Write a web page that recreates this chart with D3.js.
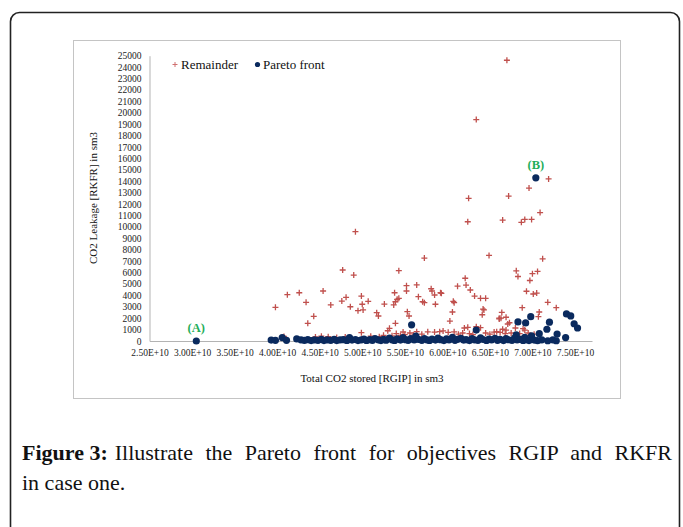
<!DOCTYPE html>
<html><head><meta charset="utf-8">
<script src="https://cdn.jsdelivr.net/npm/d3@7"></script>
<style>
html,body{margin:0;padding:0;background:#fff;}
</style></head>
<body><svg id="svg" width="683" height="527"></svg>
<script>
// ---- data (x in units of 1E+10 sm3, y in sm3) ----
const xTicks = [2.5, 3.0, 3.5, 4.0, 4.5, 5.0, 5.5, 6.0, 6.5, 7.0, 7.5];
const xTickLabels = ["2.50E+10","3.00E+10","3.50E+10","4.00E+10","4.50E+10","5.00E+10","5.50E+10","6.00E+10","6.50E+10","7.00E+10","7.50E+10"];
const yTicks = [0,1000,2000,3000,4000,5000,6000,7000,8000,9000,10000,11000,12000,13000,14000,15000,16000,17000,18000,19000,20000,21000,22000,23000,24000,25000];
const seriesNames = ["Remainder","Pareto front"];
const remainderX = [6.70,6.34,7.19,6.96,6.72,6.25,7.09,6.24,6.65,6.87,6.91,6.99,
 6.49,7.12,6.81,6.83,7.00,7.06,6.97,6.21,6.12,6.22,
 4.92,5.73,4.77,4.90,5.43,5.52,5.64,5.81,
 3.98,4.12,4.26,4.34,4.43,4.36,4.54,4.63,4.76,4.81,4.86,4.95,4.99,5.00,5.01,5.07,5.17,5.19,5.26,5.37,5.38,5.39,5.41,5.43,5.52,5.66,5.71,5.73,5.53,5.55,5.39,5.32,5.30,4.99,5.48,5.56,5.64,
 5.82,5.85,5.92,6.27,5.86,6.32,6.39,6.45,6.07,6.93,7.01,7.05,6.43,6.41,6.06,6.88,7.18,7.28,7.08,6.64,6.69,6.61,6.03,6.71,6.65,6.20,6.24,6.39,6.89,6.91,6.80,
 5.93,6.08,6.73,6.69,7.07,6.34,6.42,6.61,6.63,
 4.08,4.45,4.52,4.60,4.70,4.80,5.10,5.20,5.25,5.35,5.40,5.45,5.50,5.60,5.70,5.77,5.85,5.91,5.95,6.01,6.08,6.13,6.18,6.26,6.30,6.45,6.50,6.55,6.58,6.62,6.68,6.75,6.85,6.95,7.02];
const remainderY = [24600,19400,14200,13400,12700,12500,11250,10450,10600,10400,10650,10650,
 7500,7200,6150,5650,5900,6100,5300,5500,4800,4900,
 9580,7270,6220,5780,6160,4850,4910,4580,
 2950,4060,4230,3390,2160,1550,4380,3160,3500,3830,3000,2660,3940,3220,2720,3480,2480,2190,3240,3160,4230,3440,3650,3740,4380,3880,3440,3360,2570,2190,1550,1110,900,730,790,700,820,
 4380,4030,4230,4470,3220,3940,3740,3740,3480,4360,4120,4200,2720,2300,2540,2920,3390,2920,2540,2500,2080,1930,1750,1490,1030,1140,1200,1170,1080,960,1140,
 4180,3360,1600,960,2130,1250,2800,2000,2000,
 400,350,420,380,300,350,420,380,500,450,650,480,560,520,600,800,780,820,880,760,800,600,700,650,560,700,600,780,820,750,650,700,650,700,600];
const paretoX = [3.05,7.04,5.58,6.34,6.83,6.92,6.98,7.20,7.17,7.40,7.45,7.49,7.53,7.08,7.29,7.39,7.18,7.28,6.99,6.91,6.81,7.11,7.24,
 3.93,3.98,4.06,4.11,4.23,4.28,4.32,4.36,4.40,4.44,4.48,4.52,4.55,4.59,4.63,4.67,4.70,4.74,4.78,4.82,4.85,4.88,4.92,4.95,4.99,5.02,5.05,5.09,5.12,5.15,5.19,5.22,5.25,5.28,5.32,5.35,5.38,5.41,5.45,5.48,5.51,5.54,5.57,5.61,5.63,5.66,5.70,5.73,5.76,5.79,5.82,5.86,5.89,5.92,5.96,5.99,6.02,6.06,6.09,6.12,6.16,6.19,6.22,6.26,6.29,6.32,6.36,6.39,6.42,6.46,6.49,6.52,6.56,6.59,6.62,6.66,6.69,6.72,6.76,6.79,6.82,6.86,6.89,6.93,6.96,7.02,7.06];
const paretoY = [0,14300,1420,960,1670,1580,2130,1650,1030,2370,2200,1510,1140,640,610,300,20,20,460,320,530,100,100,
 80,60,300,60,180,100,60,120,40,90,60,140,40,100,60,150,40,90,120,50,300,80,130,40,100,160,50,120,60,220,90,40,140,70,260,100,50,180,80,300,120,60,200,90,440,150,60,220,100,50,170,80,260,120,40,190,90,310,60,150,230,80,120,40,200,100,60,280,130,50,170,90,240,60,140,40,200,110,60,250,90,150,50,120,40,80,30];
const annotations = [{label:"(A)", x:3.05, y:0},{label:"(B)", x:7.04, y:14300}];
const captionBold = "Figure 3:";
const captionLine1 = "Illustrate the Pareto front for objectives RGIP and RKFR";
const captionLine2 = "in case one.";

// ---- drawing ----
const svg = d3.select("#svg");
const serif = "'Liberation Serif','Times New Roman',serif";
// outer rounded frame
svg.append("rect").attr("x",10.5).attr("y",12.5).attr("width",669).attr("height",620)
  .attr("rx",9).attr("fill","none").attr("stroke","#222").attr("stroke-width",1.6);
// chart box
svg.append("rect").attr("x",73.5).attr("y",40.5).attr("width",547).attr("height",358)
  .attr("fill","#fff").attr("stroke","#c4c4c4").attr("stroke-width",1);

const x = d3.scaleLinear().domain([2.5, 7.7]).range([149.5, 592]);
const y = d3.scaleLinear().domain([0, 25000]).range([341, 55.7]);

const xAxis = svg.append("g").attr("transform","translate(0,341)")
  .call(d3.axisBottom(x).tickValues(xTicks).tickSize(0).tickPadding(8)
    .tickFormat((d,i)=>xTickLabels[i]));
const yAxis = svg.append("g").attr("transform","translate(149.5,0)")
  .call(d3.axisLeft(y).tickValues(yTicks).tickSize(0).tickPadding(8).tickFormat(d=>String(d)));
[xAxis,yAxis].forEach(g=>{
  g.select(".domain").attr("stroke","#b3b3b3").attr("stroke-width",1);
  g.selectAll("text").attr("font-family",serif).attr("font-size","9.5px").attr("fill","#222");
});

const crossPath = s => `M${-s},0H${s}M0,${-s}V${s}`;
// Remainder crosses
const rem = remainderX.map((v,i)=>({x:v,y:remainderY[i]}));
svg.append("g").selectAll("path").data(rem).join("path")
  .attr("d", crossPath(3))
  .attr("transform", d=>`translate(${x(d.x)},${y(d.y)})`)
  .attr("stroke","#c0504d").attr("stroke-width",1.3).attr("fill","none");

// Pareto dots
const par = paretoX.map((v,i)=>({x:v,y:paretoY[i]}));
svg.append("g").selectAll("circle").data(par).join("circle")
  .attr("cx", d=>x(d.x)).attr("cy", d=>y(d.y)).attr("r",3.6)
  .attr("fill","#0a2a5e");

// annotations
svg.append("g").selectAll("text").data(annotations).join("text")
  .attr("x", d=>x(d.x)).attr("y", d=>y(d.y)-9)
  .attr("text-anchor","middle").attr("font-family",serif).attr("font-weight","bold")
  .attr("font-size","12.5px").attr("fill","#1fae5a").text(d=>d.label);

// legend
const lg = svg.append("g").attr("font-family",serif).attr("font-size","13px").attr("fill","#111");
lg.append("path").attr("d", crossPath(2.5)).attr("transform","translate(175,64.5)")
  .attr("stroke","#d07070").attr("stroke-width",1);
lg.append("text").attr("x",181).attr("y",68.5).text(seriesNames[0]);
lg.append("circle").attr("cx",257.5).attr("cy",64.5).attr("r",2.6).attr("fill","#0a2a5e");
lg.append("text").attr("x",263).attr("y",68.5).text(seriesNames[1]);

// axis titles
svg.append("text").attr("x",372).attr("y",382).attr("text-anchor","middle")
  .attr("font-family",serif).attr("font-size","11px").attr("fill","#111")
  .text("Total CO2 stored [RGIP] in sm3");
svg.append("text").attr("transform","translate(97,198) rotate(-90)").attr("text-anchor","middle")
  .attr("font-family",serif).attr("font-size","11px").attr("fill","#111")
  .text("CO2 Leakage [RKFR] in sm3");

// caption (justified first line)
const cap = svg.append("g").attr("font-family",serif).attr("font-size","22px").attr("fill","#111");
const b = cap.append("text").attr("x",22).attr("y",460).attr("font-weight","bold").text(captionBold);
const bw = b.node().getComputedTextLength();
const startX = 22 + bw + 7;
const l1 = cap.append("text").attr("x",startX).attr("y",460).text(captionLine1);
const natural = l1.node().getComputedTextLength();
const gaps = captionLine1.split(" ").length - 1;
const extra = (672 - startX - natural) / gaps;
l1.attr("word-spacing", extra);
cap.append("text").attr("x",22).attr("y",490).text(captionLine2);
</script></body></html>
